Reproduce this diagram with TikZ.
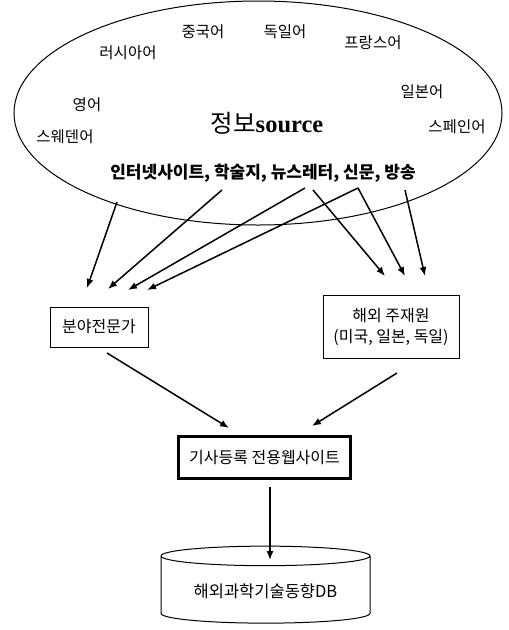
\documentclass[tikz,border=0pt]{standalone}
\usepackage{fontspec}
\setmainfont{Noto Sans CJK KR}
\newfontfamily\srcfont{Liberation Serif}
\usetikzlibrary{positioning, arrows.meta, shapes.geometric}

\begin{document}
\begin{tikzpicture}[x=1pt, y=-1pt,
lang/.style={font=\fontsize{15.5}{18}\selectfont},
box/.style={rectangle, draw, line width=1pt, font=\fontsize{16}{21}\selectfont, align=center},
flow/.style={-{Latex[length=9pt, width=7pt]}, line width=1.5pt}
]
\useasboundingbox (0,0) rectangle (509,630);
\node[ellipse, draw, line width=1pt, inner sep=0pt, minimum width=488, minimum height=224] (pool) at (258,113) {};
\node[lang] (zh) at (203,32) {중국어};
\node[lang] (de) at (285,32) {독일어};
\node[lang] (fr) at (373,43) {프랑스어};
\node[lang] (ru) at (128,53) {러시아어};
\node[lang] (ja) at (422,92) {일본어};
\node[lang] (en) at (87,105) {영어};
\node[lang] (es) at (457,127) {스페인어};
\node[lang] (sv) at (65,137) {스웨덴어};
\node[font=\fontsize{24.5}{28}\selectfont] (info) at (267,123) {정보{\srcfont\bfseries source}};
\node[font=\fontsize{17}{20}\selectfont\bfseries] (media) at (263,173) {인터넷사이트, 학술지, 뉴스레터, 신문, 방송};
\node[box, minimum width=98, minimum height=40] (expert) at (99,327) {분야전문가};
\node[box, minimum width=136, minimum height=63] (staff) at (391,327) {해외 주재원\\(미국, 일본, 독일)};
\node[box, line width=2.5pt, minimum width=172, minimum height=42] (site) at (264.5,457.5) {기사등록 전용웹사이트};
\node[cylinder, draw, line width=1pt, shape border rotate=90, aspect=0.13, minimum width=209, minimum height=77, font=\fontsize{16.5}{20}\selectfont] (db) at (265.5,591) {해외과학기술동향DB};
% free ends of the arrows
\coordinate (m1) at (117,202);
\coordinate (m2) at (222,190);
\coordinate (m3) at (305,188);
\coordinate (m4) at (358,188);
\coordinate (m5) at (313,190);
\coordinate (m6) at (405,190);
\coordinate (e1) at (87,288);
\coordinate (e2) at (108,289);
\coordinate (e3) at (128,290);
\coordinate (e4) at (147,290);
\coordinate (s1) at (385,276);
\coordinate (s2) at (405,276);
\coordinate (s3) at (425,276);
\coordinate (x1) at (107,353);
\coordinate (x2) at (397,373);
\coordinate (w1) at (229,428);
\coordinate (w2) at (312,426);
\coordinate (y1) at (270,487);
\coordinate (y2) at (270,560);
\draw[flow] (m1) -- (e1);
\draw[flow] (m2) -- (e2);
\draw[flow] (m3) -- (e3);
\draw[flow] (m4) -- (e4);
\draw[flow] (m5) -- (s1);
\draw[flow] (m4) -- (s2);
\draw[flow] (m6) -- (s3);
\draw[flow] (x1) -- (w1);
\draw[flow] (x2) -- (w2);
\draw[flow] (y1) -- (y2);
\end{tikzpicture}
\end{document}
